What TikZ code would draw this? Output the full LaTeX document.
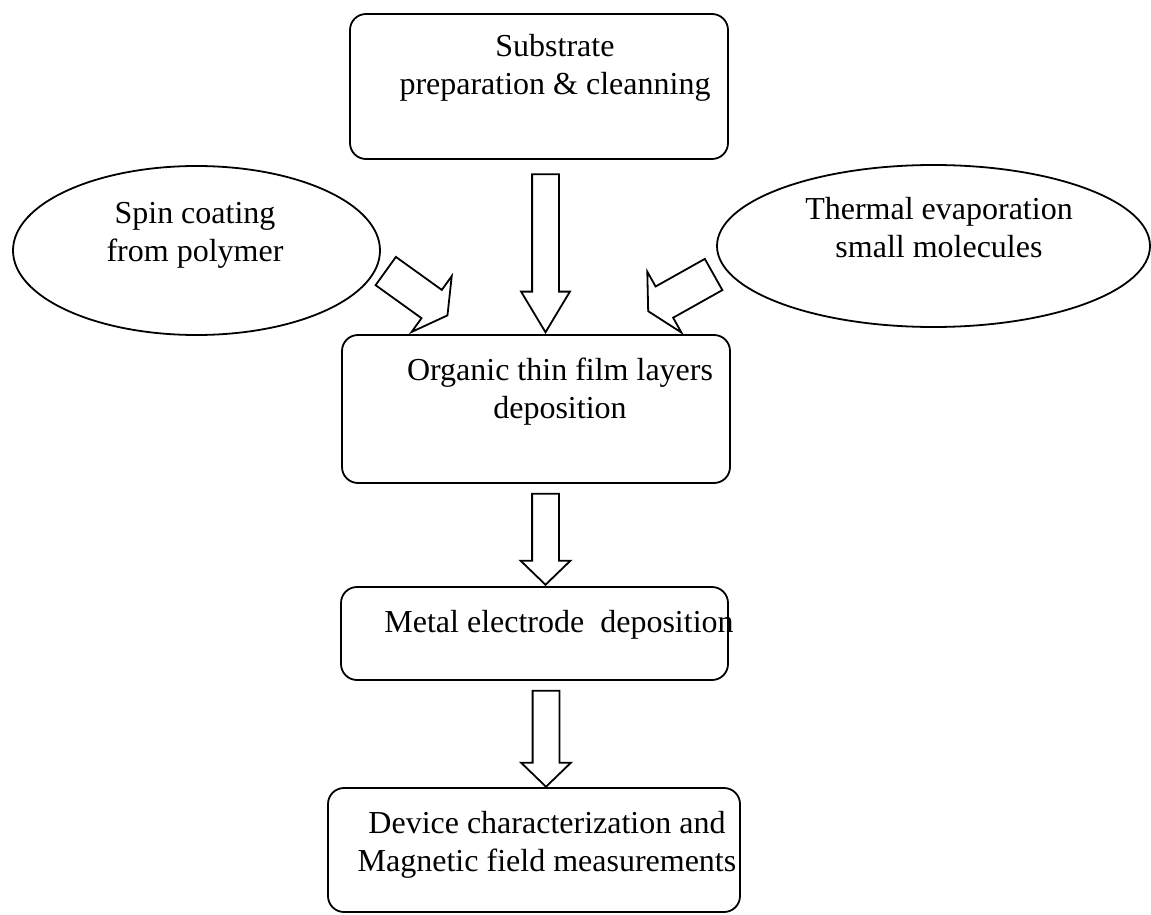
\documentclass[tikz,border=0pt]{standalone}
\usepackage{fontspec}
\setmainfont{Liberation Serif}
\usetikzlibrary{shapes.geometric,shapes.arrows}
\begin{document}
\begin{tikzpicture}[x=1pt, y=-1pt, line width=1.8pt,
    stage/.style={draw, rounded corners=16pt, inner sep=0pt},
    source/.style={draw, ellipse, inner sep=0pt},
    caption/.style={align=center, inner sep=0pt, font=\fontsize{32}{38}\selectfont},
    flow/.style={draw, single arrow, inner xsep=0pt, anchor=tip, single arrow head extend=#1}]
    \useasboundingbox (0,0) rectangle (1151,915);
    % process boxes
    \node[stage, minimum width=378, minimum height=145,
        label={[caption, xshift=16, yshift=19]center:Substrate\\preparation \& cleanning}]
        (substrate) at (539,86.5) {};
    \node[stage, minimum width=388, minimum height=148,
        label={[caption, xshift=24, yshift=17]center:Organic thin film layers\\deposition}]
        (organic) at (536,409) {};
    \node[stage, minimum width=387, minimum height=93,
        label={[caption, xshift=24.5, yshift=8.5]center:Metal electrode\ \ deposition}]
        (metal) at (534.5,633.5) {};
    \node[stage, minimum width=412, minimum height=124,
        label={[caption, xshift=13, yshift=5.5]center:Device characterization and\\Magnetic field measurements}]
        (device) at (534,850) {};
    % deposition sources
    \node[source, minimum width=367, minimum height=169,
        label={[caption, xshift=-1.5, yshift=15]center:Spin coating\\from polymer}]
        (spin) at (196.5,250.5) {};
    \node[source, minimum width=433, minimum height=162,
        label={[caption, xshift=5.5, yshift=18]center:Thermal evaporation\\small molecules}]
        (thermal) at (933.5,246) {};
    % block arrows, placed by their tips
    \node[flow=11, rotate=-90, inner ysep=12.5, minimum height=158, minimum width=47,
        single arrow tip angle=62] (substrateFlow) at (545.5,334) {};
    \node[flow=17, rotate=-35.7, inner ysep=16.5, minimum height=76, minimum width=67,
        single arrow tip angle=121] (spinFlow) at (448.3,316) {};
    \node[flow=17, rotate=209.3, inner ysep=17, minimum height=75, minimum width=68,
        single arrow tip angle=124] (thermalFlow) at (647.3,311.7) {};
    \node[flow=11.5, rotate=-90, inner ysep=12.5, minimum height=91, minimum width=48,
        single arrow tip angle=92] (organicFlow) at (545.5,586) {};
    \node[flow=11.5, rotate=-90, inner ysep=12.5, minimum height=96, minimum width=48,
        single arrow tip angle=92] (metalFlow) at (546,788) {};
\end{tikzpicture}
\end{document}
